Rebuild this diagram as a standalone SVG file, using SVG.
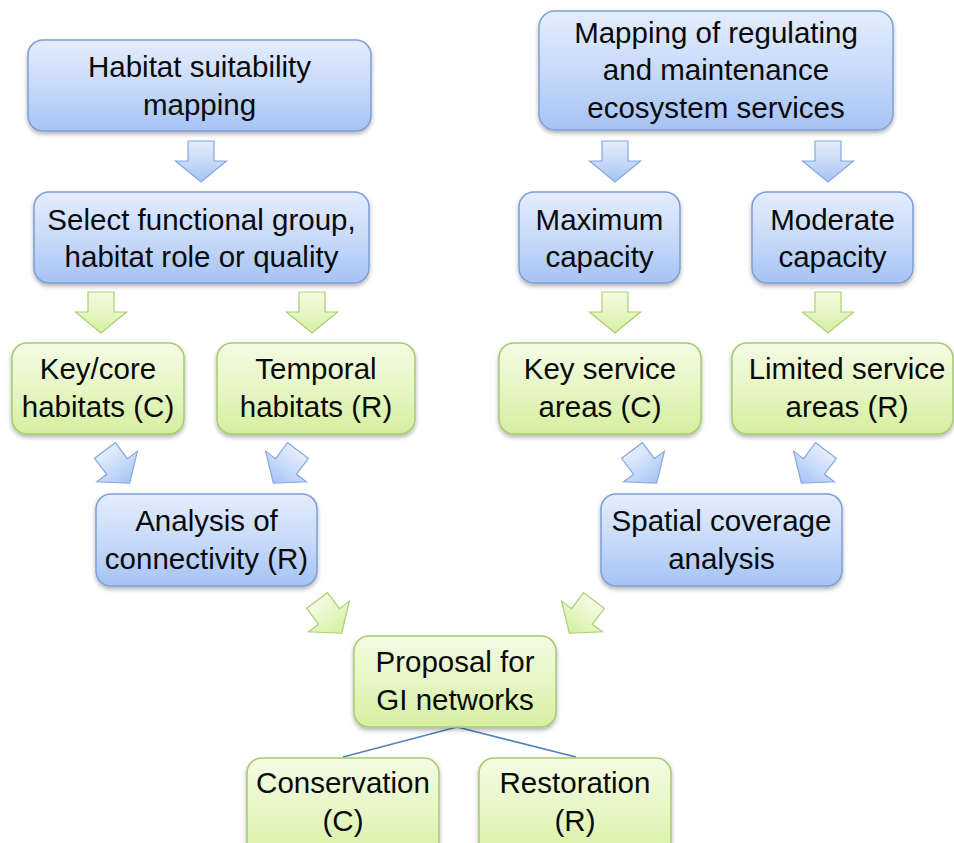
<svg xmlns="http://www.w3.org/2000/svg" width="954" height="843" viewBox="0 0 954 843">
<defs>
<linearGradient id="gb" x1="0" y1="0" x2="0" y2="1">
<stop offset="0" stop-color="#e4edfc"/>
<stop offset="0.5" stop-color="#c8daf9"/>
<stop offset="1" stop-color="#a5c3f5"/>
</linearGradient>
<linearGradient id="gg" x1="0" y1="0" x2="0" y2="1">
<stop offset="0" stop-color="#f4fbe4"/>
<stop offset="0.5" stop-color="#e6f6c4"/>
<stop offset="1" stop-color="#d5efa0"/>
</linearGradient>
<filter id="sh" x="-10%" y="-10%" width="120%" height="130%">
<feDropShadow dx="0" dy="2.5" stdDeviation="2" flood-color="#000" flood-opacity="0.3"/>
</filter>
<path id="arr" d="M-13,0 H13 V20 H25.5 L0,41 L-25.5,20 H-13 Z"/>
</defs>
<style>
.b{fill:url(#gb);stroke:#7d9fd6;stroke-width:1.5;filter:url(#sh)}
.g{fill:url(#gg);stroke:#a6cc6c;stroke-width:1.5;filter:url(#sh)}
.ab{fill:url(#gb);stroke:#86a8dc;stroke-width:1.2}
.ag{fill:url(#gg);stroke:#a9cf72;stroke-width:1.2}
text{font-family:"Liberation Sans",Arial,sans-serif;font-size:29.5px;fill:#0a0a0a;text-anchor:middle}
.ln{stroke:#4f81bd;stroke-width:1.5;fill:none}
</style>
<rect width="954" height="843" fill="#fff"/>

<g id="connectors">
<use href="#arr" class="ab" transform="translate(201,141)"/>
<use href="#arr" class="ab" transform="translate(615,141)"/>
<use href="#arr" class="ab" transform="translate(828,141)"/>
<use href="#arr" class="ag" transform="translate(101,292)"/>
<use href="#arr" class="ag" transform="translate(312,292)"/>
<use href="#arr" class="ag" transform="translate(615,292)"/>
<use href="#arr" class="ag" transform="translate(828,292)"/>
<use href="#arr" class="ab" transform="translate(105,450.5) rotate(-37)"/>
<use href="#arr" class="ab" transform="translate(298,450.5) rotate(37)"/>
<use href="#arr" class="ab" transform="translate(632,450.5) rotate(-37)"/>
<use href="#arr" class="ab" transform="translate(826,450.5) rotate(37)"/>
<use href="#arr" class="ag" transform="translate(317,600.5) rotate(-37)"/>
<use href="#arr" class="ag" transform="translate(594,600.5) rotate(37)"/>
<path class="ln" d="M343,757 L457,727 L576,757"/>
</g>

<g id="habitat-suitability">
<rect class="b" x="28" y="40" width="343" height="91" rx="15"/>
<text x="199.5" y="77">Habitat suitability</text>
<text x="199.5" y="115">mapping</text>
</g>
<g id="select-functional">
<rect class="b" x="34" y="192" width="335" height="91" rx="15"/>
<text x="201.5" y="230">Select functional group,</text>
<text x="201.5" y="267">habitat role or quality</text>
</g>
<g id="mapping-es">
<rect class="b" x="539" y="11" width="354" height="119" rx="16"/>
<text x="716" y="43">Mapping of regulating</text>
<text x="716" y="80">and maintenance</text>
<text x="716" y="118">ecosystem services</text>
</g>
<g id="maximum-capacity">
<rect class="b" x="519" y="192" width="161" height="91" rx="15"/>
<text x="599.5" y="230">Maximum</text>
<text x="599.5" y="267">capacity</text>
</g>
<g id="moderate-capacity">
<rect class="b" x="752" y="192" width="161" height="91" rx="15"/>
<text x="832.5" y="230">Moderate</text>
<text x="832.5" y="267">capacity</text>
</g>
<g id="key-core">
<rect class="g" x="12" y="343" width="172" height="91" rx="15"/>
<text x="98" y="379">Key/core</text>
<text x="98" y="417">habitats (C)</text>
</g>
<g id="temporal">
<rect class="g" x="217" y="343" width="198" height="91" rx="15"/>
<text x="316" y="379">Temporal</text>
<text x="316" y="417">habitats (R)</text>
</g>
<g id="key-service">
<rect class="g" x="499" y="343" width="202" height="91" rx="15"/>
<text x="600" y="379">Key service</text>
<text x="600" y="417">areas (C)</text>
</g>
<g id="limited-service">
<rect class="g" x="732" y="343" width="221" height="91" rx="15"/>
<text x="847" y="379">Limited service</text>
<text x="847" y="417">areas (R)</text>
</g>
<g id="connectivity">
<rect class="b" x="96" y="494" width="221" height="92" rx="15"/>
<text x="206.5" y="531">Analysis of</text>
<text x="206.5" y="569">connectivity (R)</text>
</g>
<g id="spatial-coverage">
<rect class="b" x="601" y="494" width="241" height="92" rx="15"/>
<text x="721.5" y="531">Spatial coverage</text>
<text x="721.5" y="569">analysis</text>
</g>
<g id="proposal">
<rect class="g" x="354" y="636" width="202" height="91" rx="15"/>
<text x="455" y="672">Proposal for</text>
<text x="455" y="710">GI networks</text>
</g>
<g id="conservation">
<rect class="g" x="247" y="758" width="192" height="110" rx="15"/>
<text x="343" y="793">Conservation</text>
<text x="343" y="831">(C)</text>
</g>
<g id="restoration">
<rect class="g" x="479" y="758" width="192" height="110" rx="15"/>
<text x="575" y="793">Restoration</text>
<text x="575" y="831">(R)</text>
</g>
</svg>
